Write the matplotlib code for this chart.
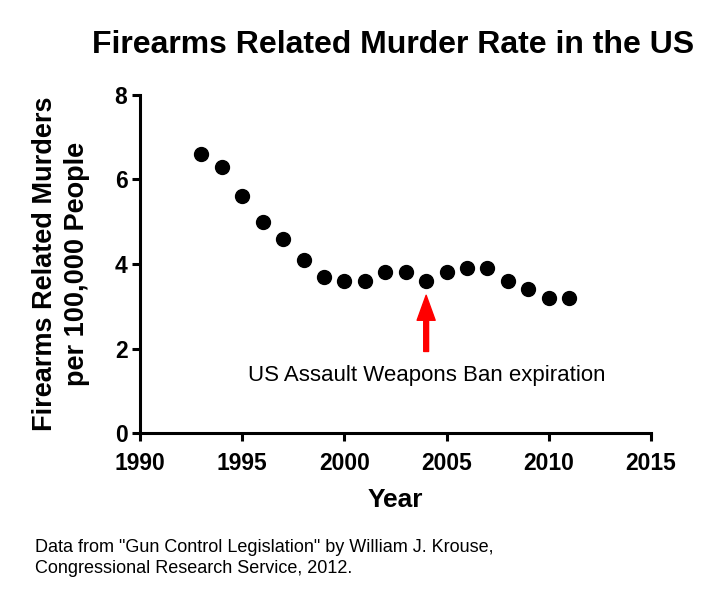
import matplotlib.pyplot as plt

# Firearms related murder rate
years = [1993, 1994, 1995, 1996, 1997, 1998, 1999, 2000, 2001, 2002,
         2003, 2004, 2005, 2006, 2007, 2008, 2009, 2010, 2011]
rates = [6.6, 6.3, 5.6, 5.0, 4.6, 4.1, 3.7, 3.6, 3.6, 3.8,
         3.8, 3.6, 3.8, 3.9, 3.9, 3.6, 3.4, 3.2, 3.2]

x_ticks = [1990, 1995, 2000, 2005, 2010, 2015]
y_ticks = [0, 2, 4, 6, 8]

ban_year = 2004

plt.rcParams['font.family'] = ['Liberation Sans', 'DejaVu Sans']

fig = plt.figure(figsize=(7.28, 6.0), dpi=100)
ax = fig.add_axes([0.1923, 0.2783, 0.7019, 0.5634])

ax.plot(years, rates, 'o', color='black', markersize=10)

ax.set_xlim(1990, 2015)
ax.set_ylim(0, 8)
ax.set_xticks(x_ticks)
ax.set_yticks(y_ticks)

for side in ['top', 'right']:
    ax.spines[side].set_visible(False)
for side in ['left', 'bottom']:
    ax.spines[side].set_linewidth(2.2)
ax.tick_params(width=2.2, length=6, labelsize=16.5)
ax.tick_params(axis='x', pad=8)
ax.tick_params(axis='y', pad=3)
for lbl in ax.get_xticklabels() + ax.get_yticklabels():
    lbl.set_fontweight('bold')

ax.set_xlabel('Year', fontsize=19, fontweight='bold', labelpad=9)
ax.set_ylabel('Firearms Related Murders\nper 100,000 People', fontsize=19.5,
              fontweight='bold', labelpad=18, linespacing=1.3)

fig.text(0.54, 0.925, 'Firearms Related Murder Rate in the US',
         fontsize=23, fontweight='bold', ha='center', va='center')

ax.annotate('', xy=(ban_year, 3.26), xytext=(ban_year, 1.93),
            arrowprops=dict(facecolor='red', edgecolor='red', width=3.5,
                            headwidth=13, headlength=18))
ax.text(ban_year + 0.05, 1.37, 'US Assault Weapons Ban expiration',
        fontsize=16, ha='center', va='center')

fig.text(0.048, 0.07,
         'Data from "Gun Control Legislation" by William J. Krouse,\n'
         'Congressional Research Service, 2012.',
         fontsize=13, ha='left', va='center', linespacing=1.3)

fig.savefig('out.png', dpi=100)
